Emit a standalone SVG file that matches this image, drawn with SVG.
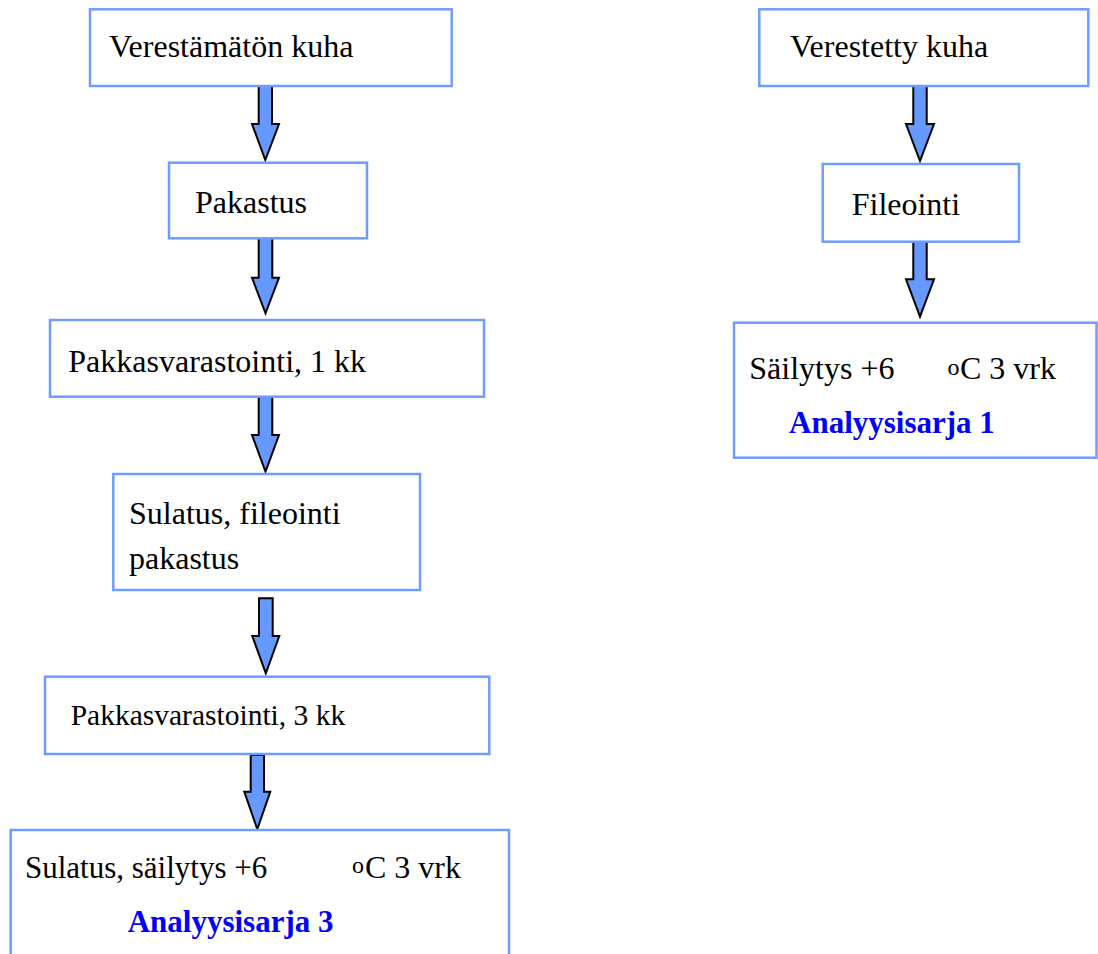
<svg xmlns="http://www.w3.org/2000/svg" width="1098" height="954" viewBox="0 0 1098 954">
<style>
.box{fill:#ffffff;stroke:#6f9cff;stroke-width:2.5}
.arr{fill:#6699ff;stroke:#000000;stroke-width:2;stroke-linejoin:miter}
.t{font-family:"Liberation Serif","Times New Roman",serif;font-size:32px;fill:#000000}
.b{font-family:"Liberation Serif","Times New Roman",serif;font-size:31px;font-weight:bold;fill:#0000ff}
.sup{font-family:"Liberation Serif","Times New Roman",serif;font-size:24px;fill:#000000}
</style>
<rect width="1098" height="954" fill="#ffffff"/>
<g id="connectors">
<polygon class="arr" points="258.7,86 272,86 272,124 279,124 265.3,160 252,124 258.7,124"/>
<polygon class="arr" points="258.7,238 272.3,238 272.3,277.7 279,277.7 265.5,313.3 252,277.7 258.7,277.7"/>
<polygon class="arr" points="258.7,397 272.3,397 272.3,435 279,435 265.5,471.7 252,435 258.7,435"/>
<polygon class="arr" points="259,598.3 272.7,598.3 272.7,636 279.3,636 265.8,673.3 252.3,636 259,636"/>
<polygon class="arr" points="250.7,755 264,755 264,791.7 270.3,791.7 257.3,829.3 244.3,791.7 250.7,791.7"/>
<polygon class="arr" points="913.3,86 926.7,86 926.7,124 934,124 920,161 906,124 913.3,124"/>
<polygon class="arr" points="913.3,241.7 926.7,241.7 926.7,279.3 934,279.3 920,316.7 906,279.3 913.3,279.3"/>
</g>
<g id="n1">
<rect class="box" x="90" y="9.3" width="361.7" height="76.7"/>
<text class="t" x="109" y="57">Verestämätön kuha</text>
</g>
<g id="n2">
<rect class="box" x="169" y="162.7" width="198" height="75.6"/>
<text class="t" x="195" y="212.7">Pakastus</text>
</g>
<g id="n3">
<rect class="box" x="50" y="320" width="434" height="76.7"/>
<text class="t" x="68.3" y="371.7">Pakkasvarastointi, 1 kk</text>
</g>
<g id="n4">
<rect class="box" x="113.3" y="474" width="306.7" height="116"/>
<text class="t" x="129" y="524.3">Sulatus, fileointi</text>
<text class="t" x="129" y="569.3">pakastus</text>
</g>
<g id="n5">
<rect class="box" x="45" y="676.7" width="444.3" height="77.3"/>
<text class="t" x="70.7" y="725" style="font-size:29.5px">Pakkasvarastointi, 3 kk</text>
</g>
<g id="n6">
<rect class="box" x="10.7" y="830" width="498.3" height="140"/>
<text class="t" x="25" y="877.7" style="font-size:31px">Sulatus, säilytys +6</text>
<text class="sup" x="352" y="873">o</text>
<text class="t" x="365" y="877.7">C 3 vrk</text>
<text class="b" x="127.7" y="931.7">Analyysisarja 3</text>
</g>
<g id="n7">
<rect class="box" x="759.3" y="9.3" width="329" height="76.7"/>
<text class="t" x="790" y="56.7">Verestetty kuha</text>
</g>
<g id="n8">
<rect class="box" x="822.7" y="164" width="196.3" height="77.7"/>
<text class="t" x="851.7" y="215">Fileointi</text>
</g>
<g id="n9">
<rect class="box" x="734" y="322.7" width="362.5" height="135"/>
<text class="t" x="749.3" y="379">Säilytys +6</text>
<text class="sup" x="947.5" y="374.5">o</text>
<text class="t" x="960" y="379">C 3 vrk</text>
<text class="b" x="789" y="432.7">Analyysisarja 1</text>
</g>
</svg>
